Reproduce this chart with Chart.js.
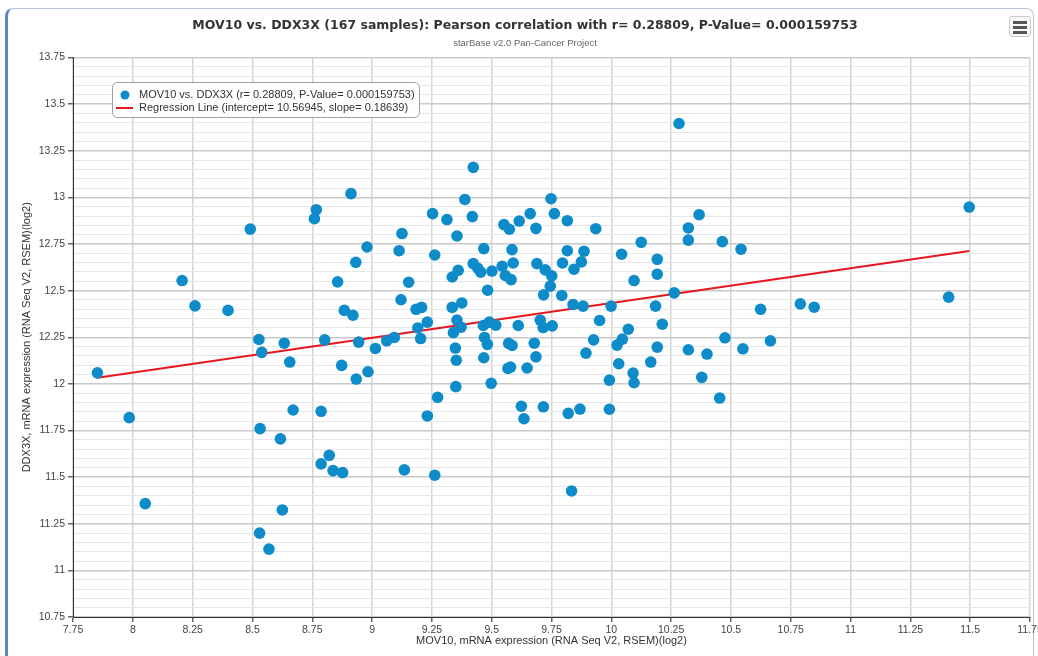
<!DOCTYPE html>
<html>
<head>
<meta charset="utf-8">
<title>MOV10 vs. DDX3X</title>
<script src="https://cdn.jsdelivr.net/npm/chart.js@4.4.0/dist/chart.umd.min.js"></script>
<style>
  body { margin: 0; background: #fff; }
  #wrap { position: relative; width: 1038px; height: 656px; overflow: hidden; }
  #frame { position: absolute; left: 5px; top: 8px; width: 1025px; height: 670px;
           border: 1px solid #b6c4da; border-left: 3px solid #5a86c4; border-radius: 8px; background: #fff; }
  #chart { position: absolute; left: 0; top: 0; }
  #menu { position: absolute; left: 1009px; top: 16px; width: 20px; height: 19px;
          border: 1px solid #c8c8c8; border-radius: 3px; background: #f8f8f8; }
  #menu span { position: absolute; left: 3px; width: 14px; height: 2.5px; background: #555; }
</style>
</head>
<body>
<div id="wrap">
  <div id="frame"></div>
  <canvas id="chart" width="1038" height="656"></canvas>
  <div id="menu"><span style="top:4px"></span><span style="top:9px"></span><span style="top:14px"></span></div>
</div>
<script>
// MOV10 expression (x) and DDX3X expression (y), log2
var mov10 = [
  8.912, 8.767, 8.759, 8.491, 8.979, 9.113, 9.125, 8.932, 8.206, 8.856,
  9.121, 8.260, 8.398, 8.884, 8.920, 8.527, 8.633, 8.802, 8.539, 8.944,
  9.014, 9.061, 9.093, 8.656, 8.873, 8.983, 8.934, 7.852, 7.985, 8.670,
  8.787, 8.532, 8.617, 8.821, 8.787, 8.837, 8.877, 8.052, 8.625, 8.530,
  8.569, 9.423, 9.388, 9.748, 9.253, 9.313, 9.419, 9.762, 9.661, 9.615,
  9.816, 9.551, 9.574, 9.685, 9.355, 9.262, 9.467, 9.585, 9.816, 9.423,
  9.442, 9.454, 9.501, 9.544, 9.590, 9.689, 9.796, 9.844, 9.335, 9.360,
  9.557, 9.581, 9.724, 9.751, 9.745, 9.153, 9.483, 9.717, 9.793, 9.375,
  9.184, 9.207, 9.335, 9.840, 9.355, 9.231, 9.191, 9.340, 9.372, 9.465,
  9.490, 9.517, 9.611, 9.703, 9.715, 9.753, 9.203, 9.470, 9.482, 9.348,
  9.352, 9.467, 9.571, 9.585, 9.678, 9.685, 9.568, 9.579, 9.648, 9.350,
  9.498, 9.274, 9.624, 9.716, 9.635, 9.231, 9.820, 9.869, 9.135, 9.262,
  9.834, 9.935, 10.125, 10.367, 10.322, 10.322, 10.464, 10.542, 9.886, 10.043,
  10.192, 9.875, 10.192, 10.095, 10.263, 9.882, 9.999, 10.185, 10.624, 9.951,
  10.213, 10.071, 9.926, 10.046, 10.024, 10.192, 10.475, 9.894, 10.322, 10.400,
  10.550, 10.031, 10.165, 10.091, 10.095, 9.992, 10.378, 10.453, 9.992, 11.496,
  10.790, 10.848, 11.410, 10.665, 10.283
];
var ddx3x = [
  13.020, 12.934, 12.886, 12.830, 12.734, 12.714, 12.806, 12.652, 12.554, 12.547,
  12.451, 12.418, 12.394, 12.394, 12.368, 12.238, 12.218, 12.236, 12.169, 12.224,
  12.190, 12.231, 12.249, 12.117, 12.099, 12.065, 12.026, 12.059, 11.819, 11.860,
  11.853, 11.760, 11.705, 11.617, 11.571, 11.535, 11.524, 11.358, 11.324, 11.200,
  11.114, 13.161, 12.989, 12.993, 12.913, 12.881, 12.897, 12.913, 12.913, 12.873,
  12.875, 12.854, 12.829, 12.834, 12.793, 12.691, 12.725, 12.720, 12.714, 12.645,
  12.620, 12.599, 12.605, 12.631, 12.648, 12.645, 12.648, 12.615, 12.573, 12.609,
  12.581, 12.559, 12.611, 12.579, 12.524, 12.545, 12.502, 12.477, 12.474, 12.434,
  12.400, 12.410, 12.410, 12.426, 12.342, 12.331, 12.300, 12.275, 12.304, 12.313,
  12.331, 12.315, 12.313, 12.342, 12.302, 12.311, 12.243, 12.249, 12.212, 12.192,
  12.127, 12.140, 12.217, 12.206, 12.218, 12.145, 12.083, 12.090, 12.085, 11.985,
  12.003, 11.928, 11.880, 11.877, 11.813, 11.828, 11.842, 11.865, 11.539, 11.510,
  11.426, 12.832, 12.759, 12.907, 12.836, 12.771, 12.763, 12.722, 12.711, 12.695,
  12.668, 12.654, 12.588, 12.554, 12.488, 12.417, 12.417, 12.417, 12.400, 12.340,
  12.320, 12.293, 12.236, 12.240, 12.208, 12.197, 12.247, 12.165, 12.183, 12.160,
  12.188, 12.108, 12.117, 12.058, 12.006, 12.020, 12.035, 11.924, 11.864, 12.948,
  12.429, 12.411, 12.465, 12.231, 13.396
];

// regression from the legend
var intercept = 10.56945;
var slope = 0.18639;

var titleText = 'MOV10 vs. DDX3X (167 samples): Pearson correlation with r= 0.28809, P-Value= 0.000159753';
var subtitleText = 'starBase v2.0 Pan-Cancer Project';
var xTitle = 'MOV10, mRNA expression (RNA Seq V2, RSEM)(log2)';
var yTitle = 'DDX3X, mRNA expression (RNA Seq V2, RSEM)(log2)';
var pointLabel = 'MOV10 vs. DDX3X (r= 0.28809, P-Value= 0.000159753)';
var lineLabel = 'Regression Line (intercept= 10.56945, slope= 0.18639)';

var pointColor = '#0e8bc9';
var lineColor = '#e8171d';

var points = mov10.map(function(x, i) { return { x: x, y: ddx3x[i] }; });
var xMin = Math.min.apply(null, mov10), xMax = Math.max.apply(null, mov10);
var regLine = [
  { x: xMin, y: intercept + slope * xMin },
  { x: xMax, y: intercept + slope * xMax }
];

function isMajor(v) { return Math.abs(v * 4 - Math.round(v * 4)) < 1e-6; }
function fmt(v) { return String(Math.round(v * 100) / 100); }

// legend box drawn inside the plot, top-left
var boxLegend = {
  id: 'boxLegend',
  afterDraw: function(chart) {
    var ctx = chart.ctx;
    var ds = chart.data.datasets;
    ctx.save();
    ctx.beginPath();
    ctx.roundRect(112.5, 82.5, 307, 35, 5);
    ctx.fillStyle = 'rgba(255,255,255,0.9)';
    ctx.fill();
    ctx.strokeStyle = '#a0a0a0';
    ctx.lineWidth = 1;
    ctx.stroke();

    ctx.fillStyle = ds[0].backgroundColor;
    ctx.beginPath();
    ctx.arc(125, 95, 4.5, 0, Math.PI * 2);
    ctx.fill();

    ctx.strokeStyle = ds[1].borderColor;
    ctx.lineWidth = 2;
    ctx.beginPath();
    ctx.moveTo(116, 108);
    ctx.lineTo(133, 108);
    ctx.stroke();

    ctx.font = '11px "Liberation Sans", Arial, sans-serif';
    ctx.fillStyle = '#333';
    ctx.textBaseline = 'middle';
    ctx.fillText(ds[0].label, 139, 95);
    ctx.fillText(ds[1].label, 139, 108);
    ctx.restore();
  }
};

Chart.defaults.font.family = '"Liberation Sans", Arial, sans-serif';

new Chart(document.getElementById('chart'), {
  type: 'scatter',
  data: {
    datasets: [
      {
        label: pointLabel,
        data: points,
        backgroundColor: pointColor,
        borderColor: pointColor,
        borderWidth: 0,
        pointRadius: 5.8
      },
      {
        label: lineLabel,
        type: 'line',
        data: regLine,
        borderColor: lineColor,
        backgroundColor: lineColor,
        borderWidth: 2,
        pointRadius: 0,
        fill: false
      }
    ]
  },
  options: {
    responsive: false,
    animation: false,
    devicePixelRatio: 1,
    layout: { padding: { top: 8, right: 8, left: 20, bottom: 0 } },
    plugins: {
      legend: { display: false },
      tooltip: { enabled: false },
      title: {
        display: true,
        text: titleText,
        color: '#333',
        font: { family: '"DejaVu Sans", Verdana, sans-serif', size: 12.5, weight: 'bold' },
        padding: { top: 10.5, bottom: 0 }
      },
      subtitle: {
        display: true,
        text: subtitleText,
        color: '#666',
        font: { size: 9.5 },
        padding: { top: 3.8, bottom: 8.8 }
      }
    },
    scales: {
      x: {
        type: 'linear',
        min: 7.75,
        max: 11.75,
        afterFit: function(s) { s.height = 39; s.paddingLeft = 0; s.paddingRight = 0; },
        ticks: {
          stepSize: 0.25,
          autoSkip: false,
          maxRotation: 0,
          padding: 2,
          color: '#444',
          font: { size: 10.5 },
          callback: function(v) { return fmt(v); }
        },
        grid: { color: '#d5d5d5', lineWidth: 1.5, tickLength: 5, tickColor: '#666' },
        border: { color: '#333', width: 1 },
        title: {
          display: true,
          text: xTitle,
          color: '#333',
          font: { size: 11 },
          padding: { top: 0, bottom: 8.4 }
        }
      },
      y: {
        type: 'linear',
        min: 10.75,
        max: 13.75,
        afterFit: function(s) { s.width = 53; s.paddingTop = 0; s.paddingBottom = 0; },
        ticks: {
          stepSize: 0.05,
          maxTicksLimit: 100,
          autoSkip: false,
          padding: 3,
          color: '#444',
          font: { size: 10.5 },
          callback: function(v) { return isMajor(v) ? fmt(v) : ''; }
        },
        grid: {
          color: function(c) { return c.tick && isMajor(c.tick.value) ? '#c9c9c9' : '#e6e6e6'; },
          lineWidth: function(c) { return c.tick && isMajor(c.tick.value) ? 1.5 : 1; },
          tickLength: 5,
          tickColor: function(c) { return c.tick && isMajor(c.tick.value) ? '#666' : 'rgba(0,0,0,0)'; }
        },
        border: { color: '#333', width: 1 },
        title: {
          display: true,
          text: yTitle,
          color: '#333',
          font: { size: 11 },
          padding: { top: 0, bottom: 0 }
        }
      }
    }
  },
  plugins: [boxLegend]
});
</script>
</body>
</html>
